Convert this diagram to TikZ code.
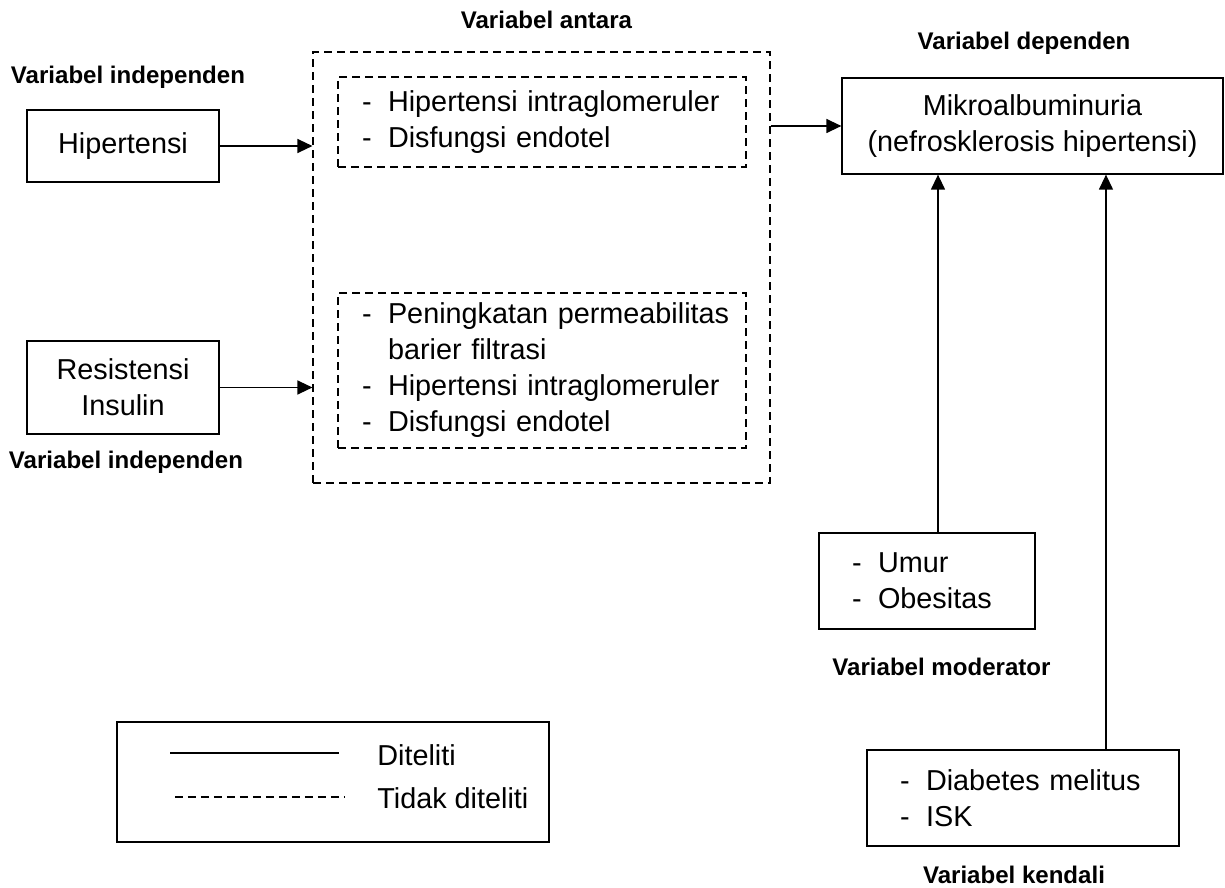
\documentclass[tikz,border=0pt]{standalone}
\usepackage{fontspec}
\setmainfont{Liberation Sans}
\usepackage{tikz}
\usetikzlibrary{arrows.meta}
\usetikzlibrary{calc}
\newcommand{\butir}[2][0.38cm]{\hspace*{#1}\makebox[0.52cm][l]{-}#2}

\begin{document}
\begin{tikzpicture}[x=0.02cm, y=-0.02cm,
    font=\fontsize{16.4}{20.5}\selectfont,
    kotak/.style={draw, line width=0.75pt, inner sep=0pt},
    putus/.style={draw, line width=0.7pt, dash pattern=on 0.16cm off 0.1cm, inner sep=0pt},
    daftar/.style={align=left, inner xsep=0.1cm},
    judul/.style={font=\fontsize{13.7}{16}\selectfont\bfseries},
    panah/.style={line width=0.75pt, -{Triangle[length=0.3cm, width=0.28cm]}}]
    \useasboundingbox (0,0) rectangle (1225,888);

    \node[judul] (lblindep1) at (128,77) {Variabel independen};
    \node[judul] (lblindep2) at (126,462) {Variabel independen};
    \node[judul] (lblantara) at (546.5,20) {Variabel antara};
    \node[judul] (lbldep) at (1024,43) {Variabel dependen};
    \node[judul] (lblmod) at (941.5,667) {Variabel moderator};
    \node[judul] (lblkend) at (1014,875) {Variabel kendali};

    \node[kotak, minimum width=3.84cm, minimum height=1.44cm] (hip) at (123,146) {Hipertensi};
    \node[kotak, minimum width=3.84cm, minimum height=1.86cm, align=center] (ri) at (123,387.5) {Resistensi\\Insulin};

    \node[putus, minimum width=9.14cm, minimum height=8.62cm] (antara) at (541.5,267.5) {};
    \node[putus, daftar, minimum width=8.16cm, minimum height=1.8cm, text width=7.96cm] (ant1) at (542,122)
        {\butir{Hipertensi intraglomeruler}\\ \butir{Disfungsi endotel}};
    \node[putus, daftar, minimum width=8.16cm, minimum height=3.1cm, text width=7.96cm] (ant2) at (542,370.5)
        {\butir{Peningkatan permeabilitas}\\ \hspace*{0.9cm}barier filtrasi\\ \butir{Hipertensi intraglomeruler}\\ \butir{Disfungsi endotel}};

    \node[kotak, minimum width=7.62cm, minimum height=1.92cm, align=center] (mikro) at (1032.5,126)
        {Mikroalbuminuria\\(nefrosklerosis hipertensi)};
    \node[kotak, daftar, minimum width=4.32cm, minimum height=1.92cm, text width=4.12cm] (umur) at (927,581)
        {\butir[0.56cm]{Umur}\\ \butir[0.56cm]{Obesitas}};
    \node[kotak, daftar, minimum width=6.24cm, minimum height=1.92cm, text width=6.04cm] (dm) at (1023,798)
        {\butir[0.56cm]{Diabetes melitus}\\ \butir[0.56cm]{ISK}};

    \draw[panah] (hip.east) -- (hip.east -| antara.west);
    \draw[panah] (ri.east) -- (ri.east -| antara.west);
    \draw[panah] (mikro.west -| antara.east) -- (mikro.west);
    \draw[panah] ([xshift=0.22cm]umur.north) -- ([xshift=0.22cm]umur.north |- mikro.south);
    \draw[panah] ([xshift=1.66cm]dm.north) -- ([xshift=1.66cm]dm.north |- mikro.south);

    \node[kotak, minimum width=8.64cm, minimum height=2.4cm] (legenda) at (333,782) {};
    \coordinate (ls1) at (170,753);
    \coordinate (ls2) at (339,753);
    \coordinate (ld1) at (175,797);
    \coordinate (ld2) at (345,797);
    \draw[line width=0.75pt] (ls1) -- (ls2);
    \draw[line width=0.7pt, dash pattern=on 0.16cm off 0.1cm] (ld1) -- (ld2);
    \node[anchor=west, inner sep=0pt] (teks1) at (377,755) {Diteliti};
    \node[anchor=west, inner sep=0pt] (teks2) at (377,798) {Tidak diteliti};
\end{tikzpicture}
\end{document}
